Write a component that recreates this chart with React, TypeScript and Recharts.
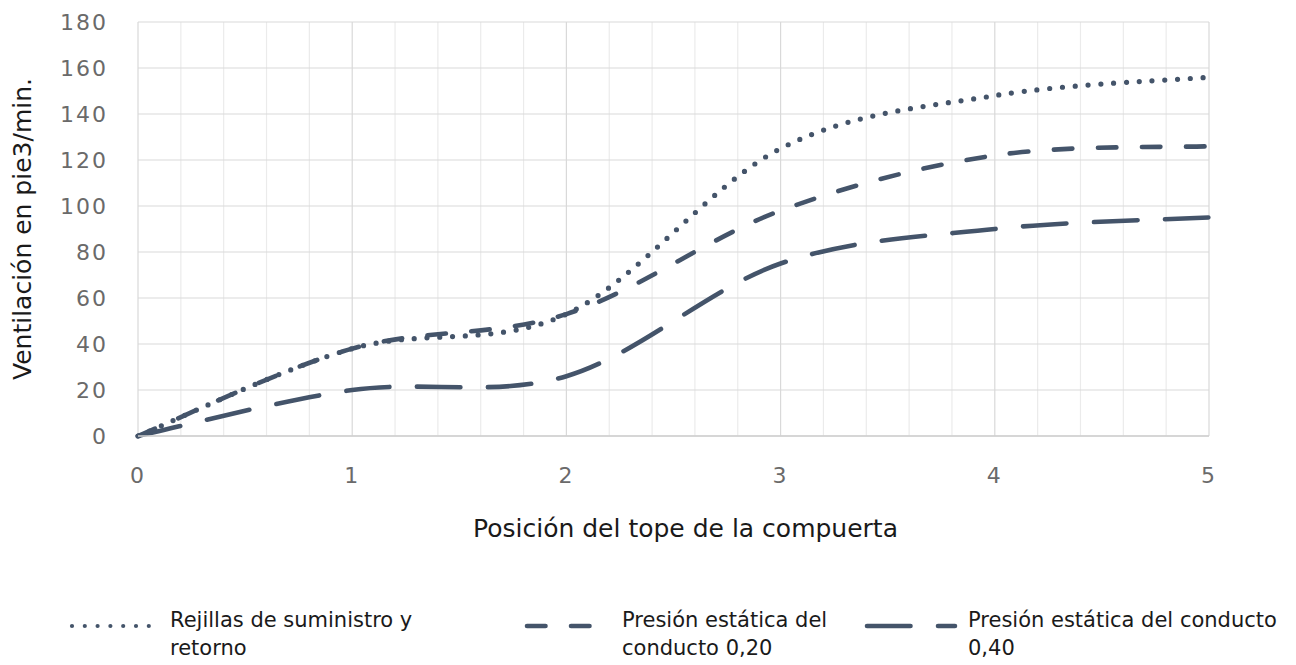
import React from 'react';
import { LineChart, Line, XAxis, YAxis, CartesianGrid, Legend } from 'recharts';

// ─── Data ─────────────────────────────────────────────────────────────────────

const positions = [0, 1, 2, 3, 4, 5];
const rejillas = [0, 38, 53, 125, 148, 156];
const presion020 = [0, 38, 53, 98, 122, 126];
const presion040 = [0, 20, 26, 75, 90, 95];

const seriesNames = [
  ['Rejillas de suministro y', 'retorno'],
  ['Presión estática del', 'conducto 0,20'],
  ['Presión estática del conducto', '0,40'],
];

const xTicks = [0, 1, 2, 3, 4, 5];
const xMinorTicks = [
  0.2, 0.4, 0.6, 0.8, 1.2, 1.4, 1.6, 1.8, 2.2, 2.4,
  2.6, 2.8, 3.2, 3.4, 3.6, 3.8, 4.2, 4.4, 4.6, 4.8,
];
const yTicks = [0, 20, 40, 60, 80, 100, 120, 140, 160, 180];

const data = positions.map((x, i) => ({
  x,
  rejillas: rejillas[i],
  presion020: presion020[i],
  presion040: presion040[i],
}));

// ─── Styles ───────────────────────────────────────────────────────────────────

const FONT = '"DejaVu Sans", "Liberation Sans", sans-serif';
const LINE_COLOR = '#44546A';
const LINE_W = 4.6;
const DOTS = '0 12.8';
const DASH = '18.5 25.5';
const LONG_DASH = '43.5 27.5';

// Catmull-Rom style smoothing (Excel "smoothed line" look)
const smoothCurve = (context: any) => {
  let pts: number[][] = [];
  return {
    areaStart() {},
    areaEnd() {},
    lineStart() {
      pts = [];
    },
    point(x: number, y: number) {
      pts.push([+x, +y]);
    },
    lineEnd() {
      const n = pts.length;
      if (!n) return;
      context.moveTo(pts[0][0], pts[0][1]);
      for (let i = 0; i < n - 1; i++) {
        const p0 = pts[i > 0 ? i - 1 : i];
        const p1 = pts[i];
        const p2 = pts[i + 1];
        const p3 = pts[i + 2 < n ? i + 2 : i + 1];
        context.bezierCurveTo(
          p1[0] + (p2[0] - p0[0]) / 6,
          p1[1] + (p2[1] - p0[1]) / 6,
          p2[0] - (p3[0] - p1[0]) / 6,
          p2[1] - (p3[1] - p1[1]) / 6,
          p2[0],
          p2[1]
        );
      }
    },
  };
};

// ─── Legend ───────────────────────────────────────────────────────────────────

const legendLayout = [
  { x0: 72, x1: 150, tx: 170, dash: DOTS, w: 4.2 },
  { x0: 527, x1: 593, tx: 622, dash: DASH, w: LINE_W },
  { x0: 867, x1: 955, tx: 968, dash: LONG_DASH, w: LINE_W },
];

function ChartLegend() {
  return (
    <svg width={1296} height={75} style={{ display: 'block' }}>
      {legendLayout.map((item, i) => (
        <g key={i}>
          <line
            x1={item.x0}
            x2={item.x1}
            y1={36}
            y2={36}
            stroke={LINE_COLOR}
            strokeWidth={item.w}
            strokeDasharray={item.dash}
            strokeLinecap="round"
          />
          <text x={item.tx} y={37} fontSize={21} fontFamily={FONT} fill="#1a1a1a">
            {seriesNames[i][0]}
          </text>
          <text x={item.tx} y={65} fontSize={21} fontFamily={FONT} fill="#1a1a1a">
            {seriesNames[i][1]}
          </text>
        </g>
      ))}
    </svg>
  );
}

// ─── Component ────────────────────────────────────────────────────────────────

const tickStyle = { fill: '#6a6a6a', fontSize: 22, fontFamily: FONT, letterSpacing: 2 };

export default function App() {
  return (
    <div
      style={{
        position: 'absolute',
        left: 0,
        top: 0,
        width: 1296,
        height: 665,
        background: '#fff',
        fontFamily: FONT,
      }}
    >
      <LineChart
        width={1296}
        height={665}
        data={data}
        margin={{ top: 22, right: 87, left: 0, bottom: 119 }}
      >
        <CartesianGrid
          horizontal={false}
          verticalValues={xMinorTicks}
          stroke="#ebebeb"
          strokeWidth={1.2}
        />
        <CartesianGrid
          horizontalValues={yTicks}
          verticalValues={xTicks}
          stroke="#d9d9d9"
          strokeWidth={1.2}
        />
        <XAxis
          dataKey="x"
          type="number"
          domain={[0, 5]}
          ticks={xTicks}
          interval={0}
          height={110}
          tickSize={0}
          tickMargin={31}
          tickLine={false}
          axisLine={{ stroke: '#cfcfcf', strokeWidth: 1.5 }}
          tick={tickStyle}
          label={{
            value: 'Posición del tope de la compuerta',
            position: 'insideBottom',
            offset: 9,
            dx: 12,
            fontSize: 25,
            fill: '#1a1a1a',
            style: { fontFamily: FONT, fontSize: 25 },
          }}
        />
        <YAxis
          type="number"
          domain={[0, 180]}
          ticks={yTicks}
          interval={0}
          width={138}
          tickSize={0}
          tickMargin={30}
          tickLine={false}
          axisLine={false}
          tick={tickStyle}
          label={{
            value: 'Ventilación en pie3/min.',
            angle: -90,
            position: 'insideLeft',
            offset: 22,
            fontSize: 25,
            fill: '#1a1a1a',
            style: { textAnchor: 'middle', fontFamily: FONT, fontSize: 25 },
          }}
        />
        <Legend
          layout="horizontal"
          verticalAlign="middle"
          align="center"
          wrapperStyle={{ left: 0, top: 590, width: 1296, height: 75 }}
          content={() => <ChartLegend />}
        />
        <Line
          dataKey="presion040"
          type={smoothCurve as any}
          stroke={LINE_COLOR}
          strokeWidth={LINE_W}
          strokeDasharray={LONG_DASH}
          strokeLinecap="round"
          dot={false}
          activeDot={false}
          isAnimationActive={false}
        />
        <Line
          dataKey="presion020"
          type={smoothCurve as any}
          stroke={LINE_COLOR}
          strokeWidth={LINE_W}
          strokeDasharray={DASH}
          strokeLinecap="round"
          dot={false}
          activeDot={false}
          isAnimationActive={false}
        />
        <Line
          dataKey="rejillas"
          type={smoothCurve as any}
          stroke={LINE_COLOR}
          strokeWidth={5.2}
          strokeDasharray={DOTS}
          strokeLinecap="round"
          dot={false}
          activeDot={false}
          isAnimationActive={false}
        />
      </LineChart>
    </div>
  );
}
